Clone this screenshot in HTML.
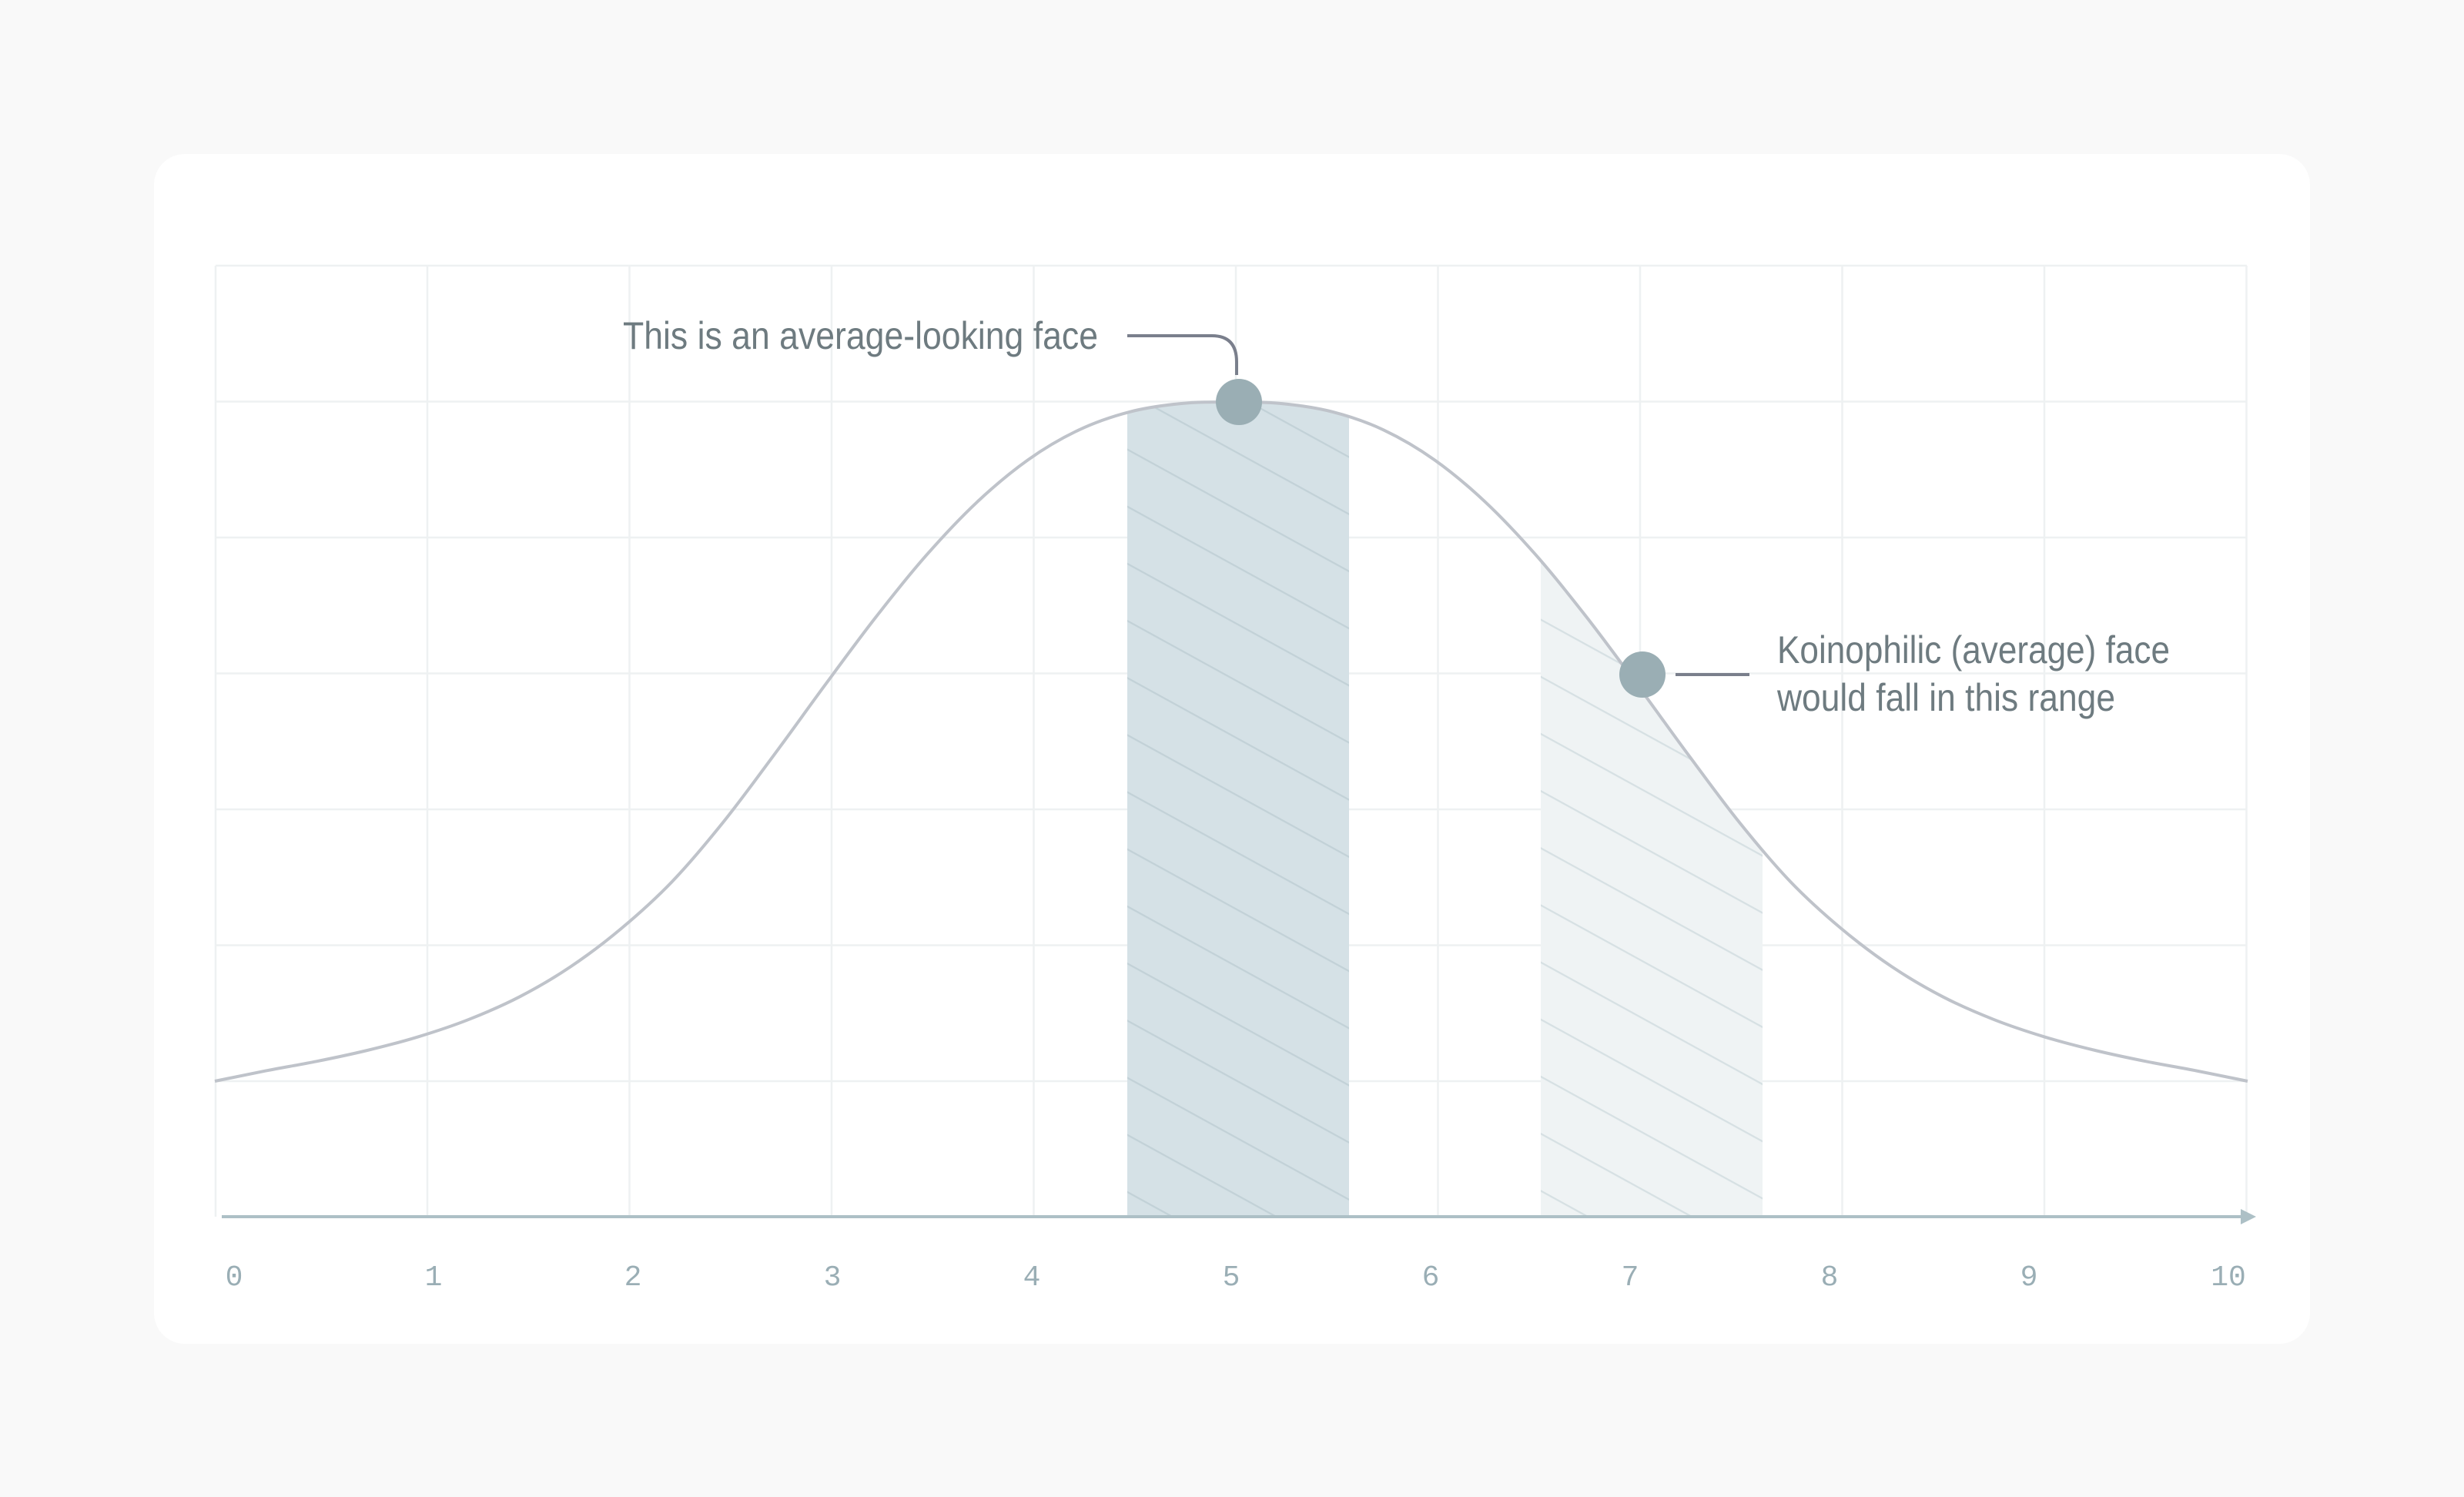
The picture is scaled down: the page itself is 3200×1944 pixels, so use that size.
<!DOCTYPE html>
<html><head><meta charset="utf-8"><style>
html,body{margin:0;padding:0;width:3200px;height:1944px;background:#f9f9f9;overflow:hidden}
svg{display:block}
</style></head><body>
<svg width="3200" height="1944" viewBox="0 0 3200 1944" xmlns="http://www.w3.org/2000/svg">
<defs>
<pattern id="h1" patternUnits="userSpaceOnUse" width="65" height="65" patternTransform="rotate(28.8)">
<rect width="65" height="65" fill="#d5e1e6"/><line x1="0" y1="1" x2="65" y2="1" stroke="#c2d1d7" stroke-width="2.5"/></pattern>
<pattern id="h2" patternUnits="userSpaceOnUse" width="65" height="65" patternTransform="rotate(28.8)">
<rect width="65" height="65" fill="#eff3f4"/><line x1="0" y1="1" x2="65" y2="1" stroke="#d6e0e3" stroke-width="2.5"/></pattern>
<clipPath id="under"><path d="M279,1404 C301,1399.5 323,1394.9 345,1390.6 C367,1386.3 389,1382.7 411,1378.3 C433,1373.9 455,1369.3 477,1364 C499,1358.7 521,1353.1 543,1346.4 C565,1339.7 587,1332.5 609,1323.8 C631,1315.1 653,1305.7 675,1294.3 C697,1282.9 719,1270.2 741,1255.4 C763,1240.6 785,1224.1 807,1205.6 C829,1187.2 851,1167.6 873,1144.7 C895,1121.8 917,1095.3 939,1068 C961,1040.7 983,1010.3 1005,980.7 C1027,951.1 1049,920 1071,890.2 C1093,860.4 1115,830.2 1137,802 C1159,773.8 1181,746.1 1203,721.1 C1225,696.1 1247,672.6 1269,651.9 C1291,631.3 1313,612.8 1335,597.2 C1357,581.6 1379,568.8 1401,558.4 C1423,548 1445,540.6 1467,534.9 C1489,529.2 1511,526.3 1533,524.1 C1555,521.9 1577,522 1599,522 C1621,522 1643,521.9 1665,524.1 C1687,526.3 1709,529.2 1731,534.9 C1753,540.6 1775,548 1797,558.4 C1819,568.8 1841,581.6 1863,597.2 C1885,612.8 1907,631.3 1929,651.9 C1951,672.6 1973,696.1 1995,721.1 C2017,746.1 2039,773.8 2061,802 C2083,830.2 2105,860.4 2127,890.2 C2149,920 2171,951.1 2193,980.7 C2215,1010.3 2237,1040.7 2259,1068 C2281,1095.3 2303,1121.8 2325,1144.7 C2347,1167.6 2369,1187.2 2391,1205.6 C2413,1224.1 2435,1240.6 2457,1255.4 C2479,1270.2 2501,1282.9 2523,1294.3 C2545,1305.7 2567,1315.1 2589,1323.8 C2611,1332.5 2633,1339.7 2655,1346.4 C2677,1353.1 2699,1358.7 2721,1364 C2743,1369.3 2765,1373.9 2787,1378.3 C2809,1382.7 2831,1386.3 2853,1390.6 C2875,1394.9 2897,1399.5 2919,1404 L2919,1580 L279,1580 Z"/></clipPath>
</defs>
<rect x="200" y="200" width="2800" height="1545" rx="40" fill="#ffffff"/>
<g stroke="#eef1f2" stroke-width="2.5">
<line x1="280" y1="345" x2="2918" y2="345"/><line x1="280" y1="521.5" x2="2918" y2="521.5"/>
<line x1="280" y1="698" x2="2918" y2="698"/><line x1="280" y1="874.5" x2="2918" y2="874.5"/>
<line x1="280" y1="1051" x2="2918" y2="1051"/><line x1="280" y1="1227.5" x2="2918" y2="1227.5"/>
<line x1="280" y1="1404" x2="2918" y2="1404"/>
<line x1="280" y1="345" x2="280" y2="1580"/>
<line x1="555" y1="345" x2="555" y2="1580"/><line x1="817.5" y1="345" x2="817.5" y2="1580"/>
<line x1="1080" y1="345" x2="1080" y2="1580"/><line x1="1342.5" y1="345" x2="1342.5" y2="1580"/>
<line x1="1605" y1="345" x2="1605" y2="1580"/><line x1="1867.5" y1="345" x2="1867.5" y2="1580"/>
<line x1="2130" y1="345" x2="2130" y2="1580"/><line x1="2392.5" y1="345" x2="2392.5" y2="1580"/>
<line x1="2655" y1="345" x2="2655" y2="1580"/><line x1="2917.5" y1="345" x2="2917.5" y2="1580"/>
</g>
<g clip-path="url(#under)">
<rect x="1464" y="400" width="288" height="1180" fill="url(#h1)"/>
<rect x="2001" y="400" width="288" height="1180" fill="url(#h2)"/>
</g>
<path fill="none" stroke="#bfc3ca" stroke-width="4" d="M279,1404 C301,1399.5 323,1394.9 345,1390.6 C367,1386.3 389,1382.7 411,1378.3 C433,1373.9 455,1369.3 477,1364 C499,1358.7 521,1353.1 543,1346.4 C565,1339.7 587,1332.5 609,1323.8 C631,1315.1 653,1305.7 675,1294.3 C697,1282.9 719,1270.2 741,1255.4 C763,1240.6 785,1224.1 807,1205.6 C829,1187.2 851,1167.6 873,1144.7 C895,1121.8 917,1095.3 939,1068 C961,1040.7 983,1010.3 1005,980.7 C1027,951.1 1049,920 1071,890.2 C1093,860.4 1115,830.2 1137,802 C1159,773.8 1181,746.1 1203,721.1 C1225,696.1 1247,672.6 1269,651.9 C1291,631.3 1313,612.8 1335,597.2 C1357,581.6 1379,568.8 1401,558.4 C1423,548 1445,540.6 1467,534.9 C1489,529.2 1511,526.3 1533,524.1 C1555,521.9 1577,522 1599,522 C1621,522 1643,521.9 1665,524.1 C1687,526.3 1709,529.2 1731,534.9 C1753,540.6 1775,548 1797,558.4 C1819,568.8 1841,581.6 1863,597.2 C1885,612.8 1907,631.3 1929,651.9 C1951,672.6 1973,696.1 1995,721.1 C2017,746.1 2039,773.8 2061,802 C2083,830.2 2105,860.4 2127,890.2 C2149,920 2171,951.1 2193,980.7 C2215,1010.3 2237,1040.7 2259,1068 C2281,1095.3 2303,1121.8 2325,1144.7 C2347,1167.6 2369,1187.2 2391,1205.6 C2413,1224.1 2435,1240.6 2457,1255.4 C2479,1270.2 2501,1282.9 2523,1294.3 C2545,1305.7 2567,1315.1 2589,1323.8 C2611,1332.5 2633,1339.7 2655,1346.4 C2677,1353.1 2699,1358.7 2721,1364 C2743,1369.3 2765,1373.9 2787,1378.3 C2809,1382.7 2831,1386.3 2853,1390.6 C2875,1394.9 2897,1399.5 2919,1404"/>
<line x1="288" y1="1580" x2="2912" y2="1580" stroke="#adc0c6" stroke-width="4"/>
<polygon points="2910,1570 2930,1580 2910,1590" fill="#adc0c6"/>
<g font-family="'Liberation Mono', monospace" font-size="38" fill="#9aaeb5" text-anchor="middle">
<text x="304" y="1669">0</text><text x="563" y="1669">1</text><text x="822" y="1669">2</text>
<text x="1081" y="1669">3</text><text x="1340" y="1669">4</text><text x="1599" y="1669">5</text>
<text x="1858" y="1669">6</text><text x="2117" y="1669">7</text><text x="2376" y="1669">8</text>
<text x="2635" y="1669">9</text><text x="2894" y="1669">10</text>
</g>
<path d="M1464,436 L1574,436 Q1606,436 1606,470 L1606,487" fill="none" stroke="#7a7f8c" stroke-width="4"/>
<line x1="2176" y1="876" x2="2272" y2="876" stroke="#7a7f8c" stroke-width="4"/>
<circle cx="1609" cy="522" r="30" fill="#9aaeb4"/>
<circle cx="2133" cy="876" r="30" fill="#9aaeb4"/>
<g font-family="'Liberation Sans', sans-serif" font-size="50" fill="#6e7b80">
<text x="809" y="453" textLength="617" lengthAdjust="spacingAndGlyphs">This is an average-looking face</text>
<text x="2308" y="861" textLength="510" lengthAdjust="spacingAndGlyphs">Koinophilic (average) face</text>
<text x="2308" y="923" textLength="439" lengthAdjust="spacingAndGlyphs">would fall in this range</text>
</g>
</svg>
</body></html>
